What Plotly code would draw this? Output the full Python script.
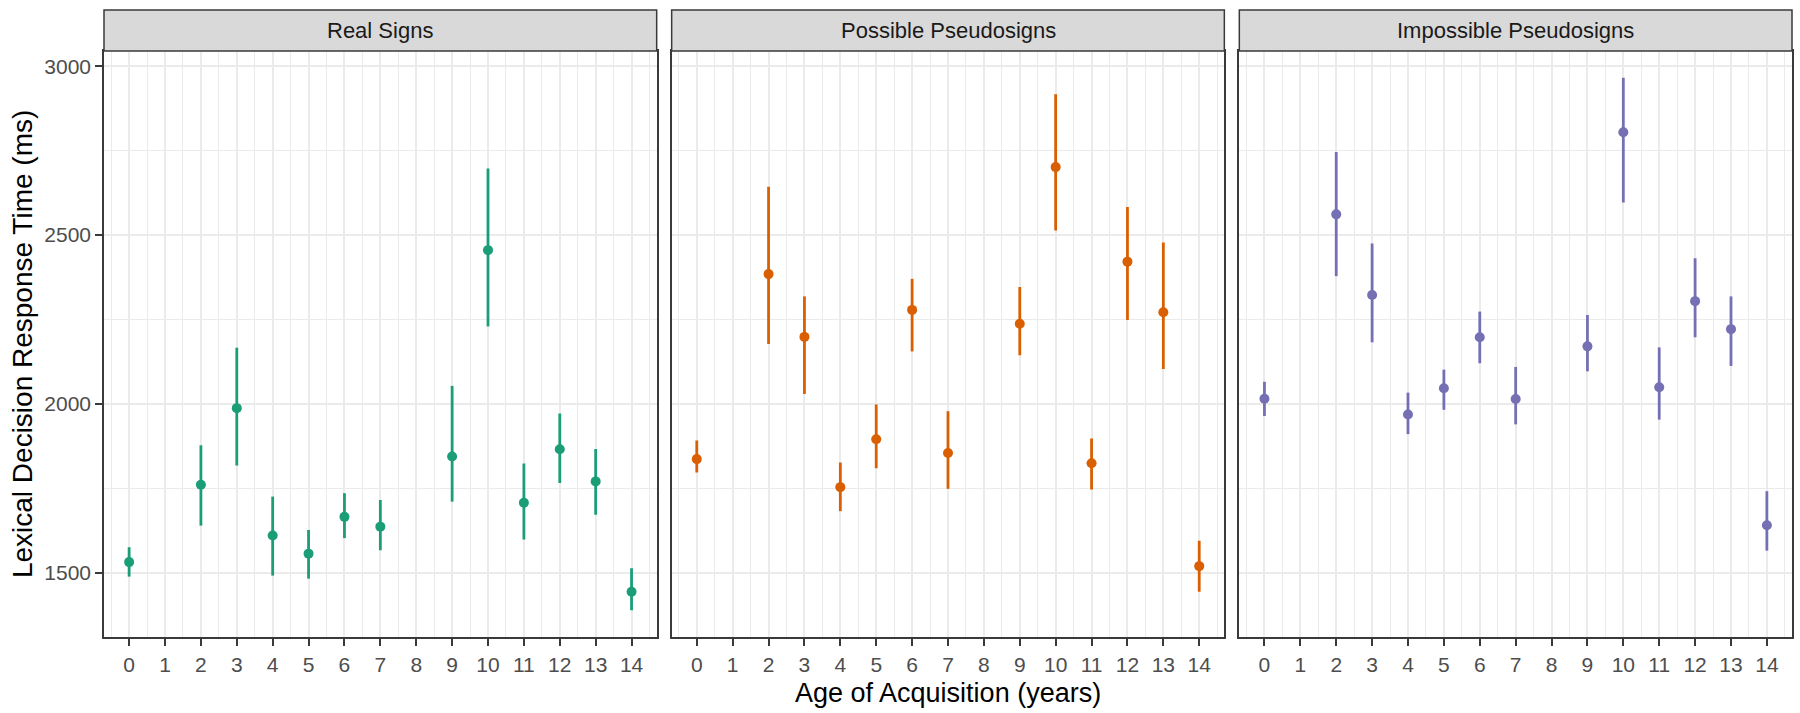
import plotly.graph_objects as go

# ---- data ----
panels = ["Real Signs", "Possible Pseudosigns", "Impossible Pseudosigns"]
colors = ["#1B9E77", "#D95F02", "#7570B3"]
age = [0, 2, 3, 4, 5, 6, 7, 9, 10, 11, 12, 13, 14]

real_mean = [1531, 1760, 1987, 1610, 1556, 1665, 1636, 1844, 2455, 1707, 1865, 1770, 1443]
real_low = [1488, 1639, 1817, 1491, 1482, 1602, 1566, 1710, 2229, 1598, 1765, 1671, 1388]
real_high = [1575, 1877, 2166, 1725, 1626, 1735, 1715, 2053, 2697, 1823, 1971, 1866, 1513]

poss_mean = [1836, 2384, 2198, 1753, 1895, 2278, 1854, 2237, 2701, 1824, 2421, 2271, 1519]
poss_low = [1796, 2177, 2029, 1682, 1809, 2155, 1748, 2144, 2513, 1746, 2248, 2103, 1443]
poss_high = [1891, 2643, 2318, 1826, 1998, 2370, 1978, 2346, 2917, 1897, 2583, 2478, 1594]

imp_mean = [2015, 2561, 2322, 1968, 2046, 2197, 2014, 2170, 2804, 2049, 2304, 2221, 1640]
imp_low = [1964, 2378, 2182, 1910, 1982, 2120, 1939, 2096, 2596, 1953, 2197, 2112, 1565]
imp_high = [2065, 2746, 2475, 2033, 2101, 2273, 2109, 2263, 2966, 2167, 2431, 2318, 1741]

x_ticks = list(range(0, 15))
y_ticks = [1500, 2000, 2500, 3000]

series = [
    (real_mean, real_low, real_high),
    (poss_mean, poss_low, poss_high),
    (imp_mean, imp_low, imp_high),
]

# ---- layout geometry ----
W, H = 1800, 713
ML, MR, MT, MB = 104, 6, 51, 76
pwid = W - ML - MR
ph = H - MT - MB
gap = 15 / pwid
pw = (1 - 2 * gap) / 3
domains = [[i * (pw + gap), i * (pw + gap) + pw] for i in range(3)]
domains[2][1] = 1.0

all_low = min(min(s[1]) for s in series)
all_high = max(max(s[2]) for s in series)
span = all_high - all_low
y_range = [all_low - 0.05 * span, all_high + 0.05 * span]
x_range = [-0.7, 14.7]

FONT = "Liberation Sans, Arial, sans-serif"
TICK_COL = "#4D4D4D"
GRID = "#EBEBEB"
BORDER = "#3A3A3A"
minor_y = [1250, 1750, 2250, 2750, 3250]

axis_common = dict(
    showline=True, mirror=True, linecolor=BORDER, linewidth=1.5,
    ticks="outside", ticklen=7, tickwidth=1.5, tickcolor=BORDER,
    tickfont=dict(family=FONT, size=21, color=TICK_COL),
    showgrid=True, gridcolor=GRID, gridwidth=1.5, zeroline=False,
)

fig = go.Figure()
for i, (m, lo, hi) in enumerate(series):
    sfx = "" if i == 0 else str(i + 1)
    fig.add_trace(go.Scatter(
        x=age, y=m, mode="markers",
        marker=dict(color=colors[i], size=10, line=dict(width=0)),
        error_y=dict(type="data", symmetric=False,
                     array=[h - v for h, v in zip(hi, m)],
                     arrayminus=[v - l for v, l in zip(m, lo)],
                     color=colors[i], thickness=2.8, width=0),
        xaxis="x" + sfx, yaxis="y" + sfx, showlegend=False,
    ))

layout = dict(
    width=W, height=H,
    margin=dict(l=ML, r=MR, t=MT, b=MB, pad=0),
    paper_bgcolor="white", plot_bgcolor="white",
    font=dict(family=FONT),
    showlegend=False,
)
for i in range(3):
    sfx = "" if i == 0 else str(i + 1)
    layout["xaxis" + sfx] = dict(
        axis_common, domain=domains[i], range=x_range, anchor="y" + sfx,
        tickmode="array", tickvals=x_ticks, ticktext=[str(t) for t in x_ticks],
        ticklabelstandoff=1,
        minor=dict(tickmode="array", tickvals=[t + 0.5 for t in range(-1, 15)],
                   showgrid=True, gridcolor=GRID, gridwidth=0.8, ticks=""),
    )
    ydict = dict(
        axis_common, range=y_range, anchor="x" + sfx, domain=[0, 1],
        tickmode="array", tickvals=y_ticks, ticktext=[str(t) for t in y_ticks],
        minor=dict(tickmode="array", tickvals=minor_y,
                   showgrid=True, gridcolor=GRID, gridwidth=0.8, ticks=""),
    )
    if i > 0:
        ydict.update(showticklabels=False, ticks="")
    layout["yaxis" + sfx] = ydict
fig.update_layout(**layout)

# strips
strip_h = (MT - 10) / ph
for i, name in enumerate(panels):
    fig.add_shape(type="rect", xref="paper", yref="paper",
                  x0=domains[i][0], x1=domains[i][1], y0=1, y1=1 + strip_h,
                  fillcolor="#D9D9D9", line=dict(color=BORDER, width=1.5), layer="above")
    fig.add_annotation(text=name, xref="paper", yref="paper",
                       x=(domains[i][0] + domains[i][1]) / 2, y=1 + strip_h / 2,
                       xanchor="center", yanchor="middle", showarrow=False,
                       font=dict(family=FONT, size=22, color="#1A1A1A"))

# axis titles
fig.add_annotation(text="Lexical Decision Response Time (ms)", xref="paper", yref="paper",
                   x=(22 - ML) / pwid, y=0.5, textangle=-90,
                   xanchor="center", yanchor="middle", showarrow=False,
                   font=dict(family=FONT, size=28, color="black"))
fig.add_annotation(text="Age of Acquisition (years)", xref="paper", yref="paper",
                   x=0.5, y=-(693 - (H - MB)) / ph,
                   xanchor="center", yanchor="middle", showarrow=False,
                   font=dict(family=FONT, size=27, color="black"))

fig.write_html("out.html")
